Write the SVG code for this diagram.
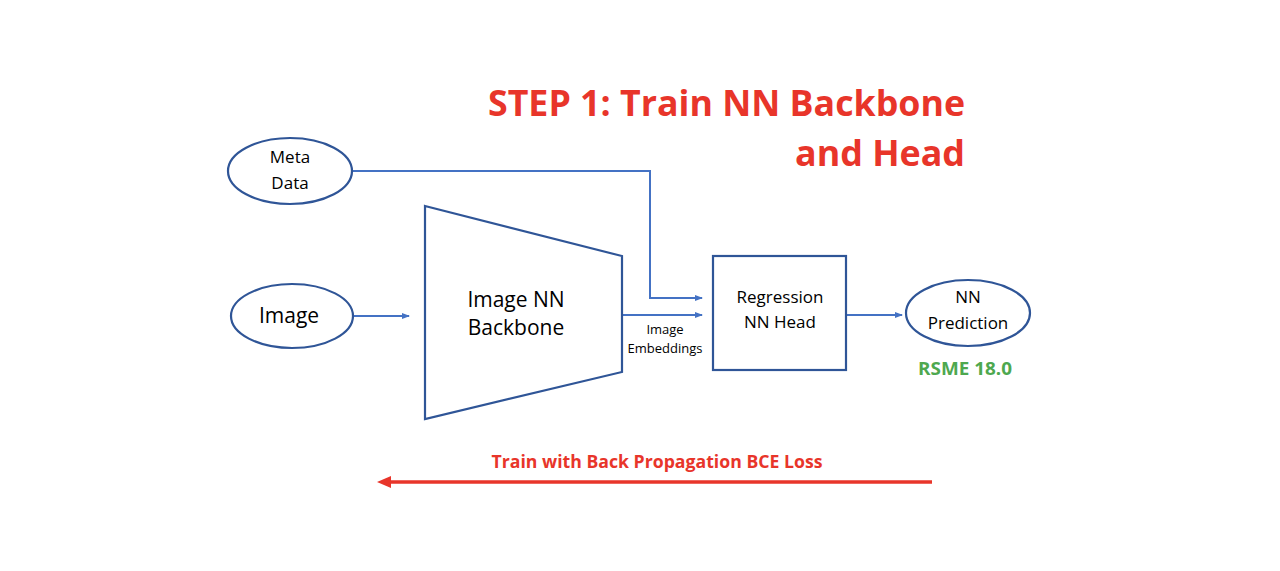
<svg xmlns="http://www.w3.org/2000/svg" width="1280" height="571" viewBox="0 0 1280 571">
<style>
.node{fill:#fff;stroke:#2F5597;stroke-width:2.2}
.lbl{font-family:"Open Sans","Liberation Sans",sans-serif;fill:#000;text-anchor:middle}
.conn{fill:none;stroke:#4472C4;stroke-width:2}
.red{font-family:"Open Sans","Liberation Sans",sans-serif;font-weight:bold;fill:#E8352A}
</style>
<defs>
<marker id="ab" markerWidth="8" markerHeight="8" refX="7" refY="4" orient="auto" markerUnits="userSpaceOnUse"><path d="M0,1 L8,4 L0,7 Z" fill="#4472C4"/></marker>
<marker id="ar" markerWidth="14" markerHeight="12" refX="1" refY="6" orient="auto-start-reverse" markerUnits="userSpaceOnUse"><path d="M0,0 L14,6 L0,12 Z" fill="#E8352A"/></marker>
</defs>
<rect width="1280" height="571" fill="#fff"/>
<g id="title">
<text class="red" x="965" y="116" font-size="36" text-anchor="end" textLength="477" lengthAdjust="spacingAndGlyphs">STEP 1: Train NN Backbone</text>
<text class="red" x="965" y="166" font-size="36" text-anchor="end" textLength="170" lengthAdjust="spacingAndGlyphs">and Head</text>
</g>
<g id="connectors">
<path class="conn" d="M353,171 H650 V298 H702" marker-end="url(#ab)"/>
<path class="conn" d="M354,316 H409" marker-end="url(#ab)"/>
<path class="conn" d="M622,315 H702" marker-end="url(#ab)"/>
<path class="conn" d="M846,315 H902" marker-end="url(#ab)"/>
<text class="lbl" x="665" y="334" font-size="13">Image</text>
<text class="lbl" x="665" y="353" font-size="13">Embeddings</text>
<line x1="932" y1="482" x2="390" y2="482" stroke="#E8352A" stroke-width="3.5" marker-end="url(#ar)"/>
<text class="red" x="657" y="468" font-size="17" text-anchor="middle" textLength="331" lengthAdjust="spacingAndGlyphs">Train with Back Propagation BCE Loss</text>
</g>
<g id="meta">
<ellipse class="node" cx="290" cy="171" rx="62" ry="33"/>
<text class="lbl" x="290" y="163" font-size="17">Meta</text>
<text class="lbl" x="290" y="189" font-size="17">Data</text>
</g>
<g id="image">
<ellipse class="node" cx="292" cy="316" rx="61" ry="32"/>
<text class="lbl" x="289" y="323" font-size="21">Image</text>
</g>
<g id="backbone">
<polygon class="node" points="425,206 622,256 622,372 425,419"/>
<text class="lbl" x="516" y="307" font-size="21">Image NN</text>
<text class="lbl" x="516" y="335" font-size="21">Backbone</text>
</g>
<g id="head">
<rect class="node" x="713" y="256" width="133" height="114"/>
<text class="lbl" x="780" y="303" font-size="17">Regression</text>
<text class="lbl" x="780" y="328" font-size="17">NN Head</text>
</g>
<g id="pred">
<ellipse class="node" cx="968" cy="313" rx="62" ry="33"/>
<text class="lbl" x="968" y="303" font-size="17">NN</text>
<text class="lbl" x="968" y="329" font-size="17">Prediction</text>
<text x="965" y="375" font-size="18" font-weight="bold" fill="#4EA84F" text-anchor="middle" font-family="'Open Sans','Liberation Sans',sans-serif" textLength="94" lengthAdjust="spacingAndGlyphs">RSME 18.0</text>
</g>
</svg>
